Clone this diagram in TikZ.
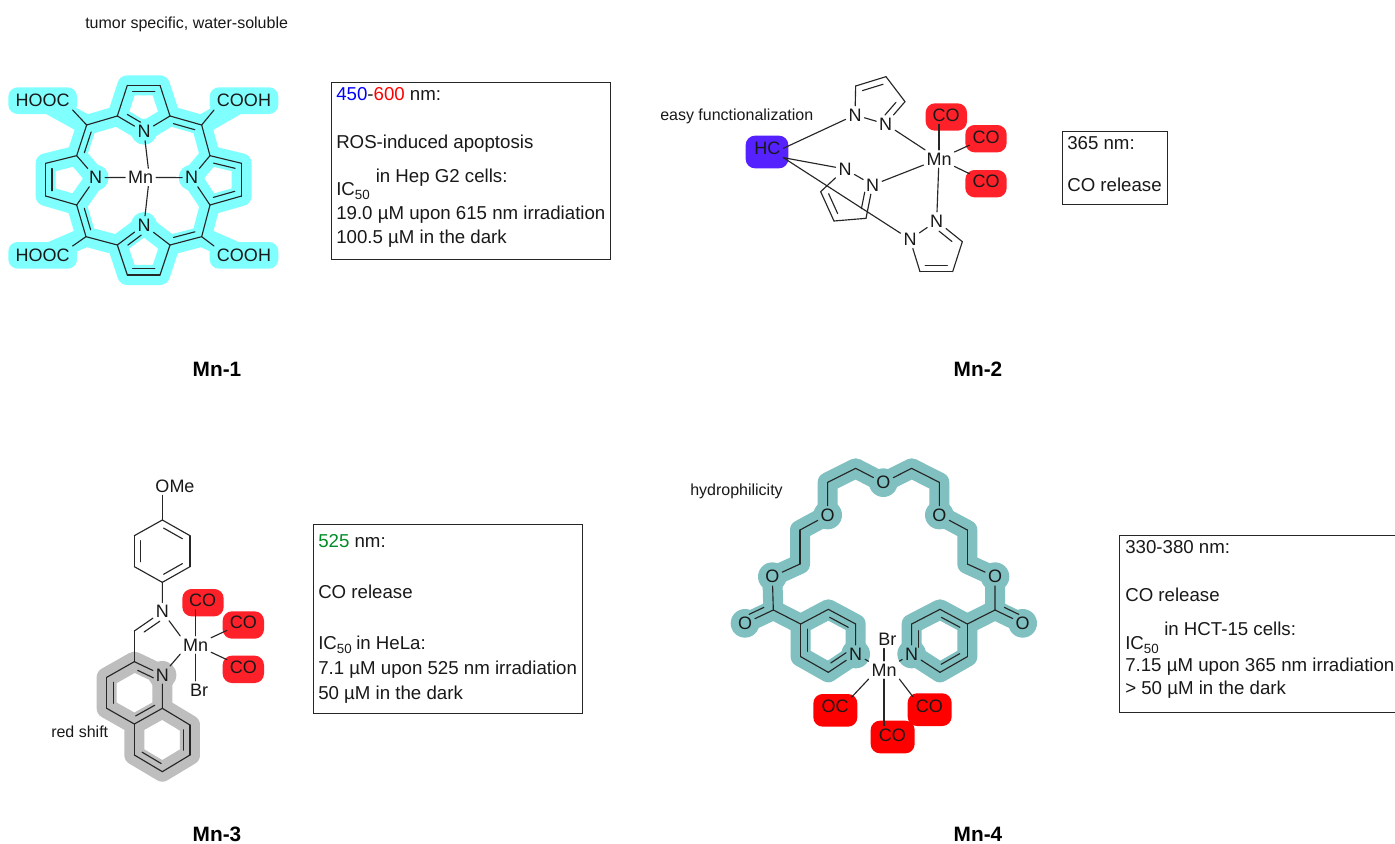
\documentclass[tikz,border=0pt]{standalone}
\usepackage{fontspec}
\setmainfont{Liberation Sans}
\usetikzlibrary{calc}
\pgfdeclarelayer{bg}
\pgfsetlayers{bg,main}
\newcommand\dblL[3][.16]{\draw[bond] ($(#2)!#1!(#3)!14.4pt!90:(#3)$) -- ($(#3)!#1!(#2)!14.4pt!-90:(#2)$);}
\newcommand\dblR[3][.16]{\draw[bond] ($(#2)!#1!(#3)!14.4pt!-90:(#3)$) -- ($(#3)!#1!(#2)!14.4pt!90:(#2)$);}
\newcommand\subf[1]{\raisebox{-3.2pt}{\fontsize{10}{12}\selectfont #1}}
\definecolor{hlcyan}{RGB}{128,255,255}
\definecolor{hlgray}{RGB}{190,190,190}
\definecolor{hlteal}{RGB}{128,192,192}
\definecolor{hlred}{RGB}{255,33,41}
\definecolor{hlpure}{RGB}{255,0,0}
\definecolor{hlpurple}{RGB}{85,33,255}
\definecolor{grn}{RGB}{0,140,40}
\tikzset{
  x=0.75pt,y=-0.75pt,
  bond/.style={draw=black!85,line width=.85pt,line cap=round,line join=round},
  atom/.style={inner sep=2pt,font=\fontsize{13.5}{16}\selectfont,text=black!90},
  txt/.style={inner sep=0pt,anchor=base west,font=\fontsize{14}{16}\selectfont,text=black!90},
  note/.style={inner sep=0pt,anchor=base west,font=\fontsize{12}{14}\selectfont,text=black!90},
  title/.style={inner sep=0pt,anchor=base,font=\fontsize{15.6}{18}\selectfont\bfseries},
  infobox/.style={draw=black!85,line width=.75pt,fill=none},
  hlline/.style={line width=15pt,line cap=round,line join=round},
  hlbox/.style={rectangle,rounded corners=7pt,inner sep=0pt},
  codbox/.style={hlbox,fill=hlred,minimum width=31pt,minimum height=20.5pt},
  cobbox/.style={hlbox,fill=hlpure,minimum width=33pt,minimum height=24.5pt},
}
\begin{document}
\begin{tikzpicture}
\path[use as bounding box] (0,0) rectangle (1395,843);
\begin{pgfonlayer}{bg}
\fill[white] (0,0) rectangle (1395,843);
\end{pgfonlayer}

%% ---------- Mn-1 ----------
\begin{scope}[shift={(0,60)},scale=1/3]
\foreach \n/\x/\y in {at1/382/76,at2/480/76,atl/352/168,atr/510/168,am1/260/195,am2/605/195,
  al1/230/287,al2/230/435,alb1/137/310,alb2/137/408,am3/258/530,am4/605/530,
  ab1/352/555,ab2/510/555,abb1/382/645,abb2/480/645,ar1/630/287,ar2/630/435,arb1/725/310,arb2/725/408}
  \coordinate (\n) at (\x,\y);
\node[atom] (aNt) at (432,215) {N};
\node[atom] (aNl) at (287,353) {N};
\node[atom] (aNr) at (575,353) {N};
\node[atom] (aNb) at (432,495) {N};
\node[atom] (aMn) at (422,352) {Mn};
\node[atom] (ac1) at (128,122) {HOOC};
\node[atom] (ac2) at (732,122) {COOH};
\node[atom] (ac3) at (128,586) {HOOC};
\node[atom] (ac4) at (732,586) {COOH};
\foreach \p/\q in {atl/at1,at1/at2,at2/atr,atl/aNt,aNt/atr,am1/atl,atr/am2,am1/al1,al1/alb1,alb1/alb2,alb2/al2,al1/aNl,aNl/al2,al2/am3,
  am3/ab1,ab1/aNb,aNb/ab2,ab1/abb1,abb1/abb2,abb2/ab2,ab2/am4,am2/ar1,ar1/arb1,arb1/arb2,arb2/ar2,ar1/aNr,aNr/ar2,ar2/am4,
  aNl/aMn,aNr/aMn}
  \draw[bond] (\p) -- (\q);
\draw[bond] (am1) -- (ac1.south east);
\draw[bond] (am2) -- (ac2.south west);
\draw[bond] (am3) -- (ac3.north east);
\draw[bond] (am4) -- (ac4.north west);
\draw[bond] (aNt) -- (aMn.50);
\draw[bond] (aNb) -- (aMn.-50);
\dblR{at1}{at2}
\dblL[.25]{atl}{aNt}
\dblR{atr}{am2}
\dblL{am1}{al1}
\dblL{alb1}{alb2}
\dblL{al2}{am3}
\dblR[.25]{ab1}{aNb}
\dblL{abb1}{abb2}
\dblL{ab2}{am4}
\dblR{ar1}{arb1}
\dblL{ar2}{arb2}
\begin{pgfonlayer}{bg}
\draw[hlline,draw=hlcyan] (am1) -- (atl) -- (at1) -- (at2) -- (atr) -- (am2) -- (ar1) -- (arb1) -- (arb2) -- (ar2) -- (am4) -- (ab2) -- (abb2) -- (abb1) -- (ab1) -- (am3) -- (al2) -- (alb2) -- (alb1) -- (al1) -- cycle;
\draw[hlline,draw=hlcyan] (atl) -- (aNt.center) -- (atr) (al1) -- (aNl.center) -- (al2) (ar1) -- (aNr.center) -- (ar2) (ab1) -- (aNb.center) -- (ab2);
\draw[hlline,draw=hlcyan] (am1) -- (ac1.center) (am2) -- (ac2.center) (am3) -- (ac3.center) (am4) -- (ac4.center);
\foreach \c in {aNt,aNl,aNr,aNb} \fill[hlcyan] (\c.center) circle (39);
\foreach \c in {ac1,ac2,ac3,ac4} \node[hlbox,fill=hlcyan,minimum width=51.5pt,minimum height=20pt] at (\c) {};
\end{pgfonlayer}
\end{scope}

%% ---------- Mn-2 ----------
\begin{scope}[shift={(730,60)},scale=1/3]
\foreach \n/\x/\y in {bc1/525/125,bc2/468/50,bc3/377/78,bc4/408/475,bc5/312/483,bc6/272/395,bc7/697/545,bc8/668/635,bc9/570/635}
  \coordinate (\n) at (\x,\y);
\node[atom] (bN1) at (375,165) {N};
\node[atom] (bN2) at (467,192) {N};
\node[atom] (bN3) at (345,327) {N};
\node[atom] (bN4) at (428,375) {N};
\node[atom] (bN5) at (540,538) {N};
\node[atom] (bN6) at (620,483) {N};
\node[atom] (bMn) at (627,297) {Mn};
\node[atom] (bHC) at (112,265) {HC};
\node[atom] (bCO1) at (648,165) {CO};
\node[atom] (bCO2) at (768,233) {CO};
\node[atom] (bCO3) at (768,365) {CO};
\foreach \p/\q in {bN1/bN2,bN2/bc1,bc1/bc2,bc2/bc3,bc3/bN1,bN3/bN4,bN4/bc4,bc4/bc5,bc5/bc6,bc6/bN3,bN5/bN6,bN6/bc7,bc7/bc8,bc8/bc9,bc9/bN5,
  bMn/bN2,bMn/bN4,bMn/bN6,bMn/bCO2,bMn/bCO3}
  \draw[bond] (\p) -- (\q);
\draw[bond] (bMn.north) -- (bMn.north |- bCO1.south);
\draw[bond] (bHC.east) -- (bN1);
\draw[bond] (bHC.south east) -- (bN3);
\draw[bond] (bHC.south east) -- (bN5);
\dblR[.22]{bc1}{bN2}
\dblL{bc2}{bc3}
\dblR[.25]{bN4}{bc4}
\dblR{bc5}{bc6}
\dblR[.25]{bN6}{bc7}
\dblR{bc8}{bc9}
\begin{pgfonlayer}{bg}
\node[hlbox,fill=hlpurple,minimum width=32pt,minimum height=24.5pt] at (111,276) {};
\node[codbox] at (649,171) {};
\node[codbox] at (768,236) {};
\node[codbox] at (768,371) {};
\end{pgfonlayer}
\end{scope}

%% ---------- Mn-3 ----------
\begin{scope}[shift={(80,470)},scale=1/3]
\foreach \n/\x/\y in {cr1/247/150,cr2/330/197,cr3/330/290,cr4/247/337,cr5/163/290,cr6/163/197,
  cim/163/483,cq2/163/575,cq8a/247/715,cq4a/163/762,cq4/80/715,cq3/80/622,cq8/330/765,cq7/330/855,cq6/247/905,cq5/163/855}
  \coordinate (\n) at (\x,\y);
\node[atom] (cOMe) at (285,48) {OMe};
\node[atom] (cN1) at (247,425) {N};
\node[atom] (cN2) at (247,615) {N};
\node[atom] (cMn) at (347,525) {Mn};
\node[atom] (cBr) at (357,660) {Br};
\node[atom] (cCO1) at (368,392) {CO};
\node[atom] (cCO2) at (490,458) {CO};
\node[atom] (cCO3) at (490,592) {CO};
\foreach \p/\q in {cr1/cr2,cr2/cr3,cr3/cr4,cr4/cr5,cr5/cr6,cr6/cr1,cr4/cN1,cN1/cim,cim/cq2,cq2/cN2,cN2/cq8a,cq8a/cq4a,cq4a/cq4,cq4/cq3,cq3/cq2,
  cq8a/cq8,cq8/cq7,cq7/cq6,cq6/cq5,cq5/cq4a,cMn/cCO2,cMn/cCO3}
  \draw[bond] (\p) -- (\q);
\draw[bond] (cOMe.south -| cr1) -- (cr1);
\draw[bond] (cN1) -- (cMn.north west);
\draw[bond] (cN2) -- (cMn.south west);
\draw[bond] (cMn.north) -- (cMn.north |- cCO1.south);
\draw[bond] (cMn.south) -- (cMn.south |- cBr.north);
\dblR{cr1}{cr2}
\dblR{cr3}{cr4}
\dblR{cr5}{cr6}
\dblL[.22]{cN1}{cim}
\dblR[.22]{cq2}{cN2}
\dblL{cq3}{cq4}
\dblL{cq4a}{cq8a}
\dblR{cq8}{cq7}
\dblR{cq6}{cq5}
\begin{pgfonlayer}{bg}
\draw[hlline,draw=hlgray] (cN2.center) -- (cq2) -- (cq3) -- (cq4) -- (cq4a) -- (cq5) -- (cq6) -- (cq7) -- (cq8) -- (cq8a) -- cycle (cq8a) -- (cq4a);
\fill[hlgray] (cN2.center) circle (42);
\node[codbox] at (369,398) {};
\node[codbox] at (490,465) {};
\node[codbox] at (490,598) {};
\end{pgfonlayer}
\end{scope}

%% ---------- Mn-4 ----------
\begin{scope}[shift={(720,450)},scale=1/3]
\foreach \n/\x/\y in {dl1/407/522,dl2/325/478,dl3/242/522,dl4/242/620,dl5/325/667,dc1/160/480,dg1/240/342,dg2/240/240,dg3/323/97,dg4/407/55,
  dg5/575/55,dg6/658/97,dg7/742/240,dg8/742/342,dc2/825/480,dr1/575/522,dr2/660/478,dr3/742/522,dr4/742/620,dr5/660/667}
  \coordinate (\n) at (\x,\y);
\node[atom] (dNl) at (407,612) {N};
\node[atom] (dNr) at (575,612) {N};
\node[atom] (dO1) at (75,520) {O};
\node[atom] (dO2) at (157,380) {O};
\node[atom] (dO3) at (323,195) {O};
\node[atom] (dO4) at (490,98) {O};
\node[atom] (dO5) at (658,195) {O};
\node[atom] (dO6) at (825,380) {O};
\node[atom] (dO7) at (908,520) {O};
\node[atom] (dMn) at (492,660) {Mn};
\node[atom] (dBr) at (502,568) {Br};
\node[atom] (dOC) at (345,770) {OC};
\node[atom] (dCO1) at (517,855) {CO};
\node[atom] (dCO2) at (628,768) {CO};
\foreach \p/\q in {dNl/dl1,dl1/dl2,dl2/dl3,dl3/dl4,dl4/dl5,dl5/dNl,dl3/dc1,dc1/dO1,dc1/dO2,dO2/dg1,dg1/dg2,dg2/dO3,dO3/dg3,dg3/dg4,dg4/dO4,dO4/dg5,dg5/dg6,dg6/dO5,dO5/dg7,dg7/dg8,dg8/dO6,dO6/dc2,dc2/dO7,dc2/dr3,
  dr3/dr2,dr2/dr1,dr1/dNr,dNr/dr5,dr5/dr4,dr4/dr3,dNl/dMn,dNr/dMn}
  \draw[bond] (\p) -- (\q);
\draw[bond] (dMn.north) -- (dMn.north |- dBr.south);
\draw[bond] (dMn.south west) -- (dOC.north east);
\draw[bond] (dMn.south east) -- (dCO2.north west);
\draw[bond] (dMn.south) -- (dMn.south |- dCO1.north);
\dblL{dl1}{dl2}
\dblL{dl3}{dl4}
\dblL[.22]{dl5}{dNl}
\dblR[.24]{dc1}{dO1}
\dblL{dr3}{dr2}
\dblR{dr4}{dr5}
\dblR[.22]{dNr}{dr1}
\dblL[.24]{dc2}{dO7}
\begin{pgfonlayer}{bg}
\draw[hlline,draw=hlteal] (dNl.center) -- (dl1) -- (dl2) -- (dl3) -- (dl4) -- (dl5) -- cycle;
\draw[hlline,draw=hlteal] (dNr.center) -- (dr1) -- (dr2) -- (dr3) -- (dr4) -- (dr5) -- cycle;
\draw[hlline,draw=hlteal] (dl3) -- (dc1) -- (dO2.center) -- (dg1) -- (dg2) -- (dO3.center) -- (dg3) -- (dg4) -- (dO4.center) -- (dg5) -- (dg6) -- (dO5.center) -- (dg7) -- (dg8) -- (dO6.center) -- (dc2) -- (dr3);
\draw[hlline,draw=hlteal] (dO1.center) -- (dc1) (dO7.center) -- (dc2);
\foreach \c in {dNl,dNr,dO1,dO2,dO3,dO4,dO5,dO6,dO7} \fill[hlteal] (\c.center) circle (43);
\node[cobbox] at (346,781) {};
\node[cobbox] at (518,861) {};
\node[cobbox] at (629,779) {};
\end{pgfonlayer}
\end{scope}

%% ---------- info boxes ----------
\node[infobox,inner sep=0pt,minimum width=209.25pt,minimum height=133pt,anchor=north west] (box1) at (331,82) {};
\node[txt] (t1a) at (336,100) {\textcolor{blue}{450}-\textcolor{red}{600} nm:};
\node[txt] (t1b) at (336,148) {ROS-induced apoptosis};
\node[txt] (t1c) at (336,195.5) {IC\subf{50}};
\node[txt] (t1d) at (375.5,182) {in Hep G2 cells:};
\node[txt] (t1e) at (336,219) {19.0 µM upon 615 nm irradiation};
\node[txt] (t1f) at (336,243) {100.5 µM in the dark};

\node[infobox,inner sep=0pt,minimum width=78.75pt,minimum height=54.75pt,anchor=north west] (box2) at (1062,131) {};
\node[txt] (t2a) at (1067,149) {365 nm:};
\node[txt] (t2b) at (1067,191) {CO release};

\node[infobox,inner sep=0pt,minimum width=201.75pt,minimum height=141.75pt,anchor=north west] (box3) at (313,524) {};
\node[txt] (t3a) at (318,547) {\textcolor{grn}{525} nm:};
\node[txt] (t3b) at (318,598) {CO release};
\node[txt] (t3c) at (318,649) {IC\subf{50}};
\node[txt] (t3d) at (356,649) {in HeLa:};
\node[txt] (t3e) at (318,674) {7.1 µM upon 525 nm irradiation};
\node[txt] (t3f) at (318,699) {50 µM in the dark};

\node[infobox,inner sep=0pt,minimum width=210pt,minimum height=132.5pt,anchor=north west] (box4) at (1119,535) {};
\node[txt] (t4a) at (1125,553) {330-380 nm:};
\node[txt] (t4b) at (1125,601) {CO release};
\node[txt] (t4c) at (1125,649.5) {IC\subf{50}};
\node[txt] (t4d) at (1164,635.5) {in HCT-15 cells:};
\node[txt] (t4e) at (1125,671) {7.15 µM upon 365 nm irradiation};
\node[txt] (t4f) at (1125,694) {> 50 µM in the dark};

%% ---------- notes and titles ----------
\node[note] (n1) at (85,28) {tumor specific, water-soluble};
\node[note] (n2) at (660,120) {easy functionalization};
\node[note] (n3) at (690,495) {hydrophilicity};
\node[note] (n4) at (51,737) {red shift};
\node[title] (l1) at (217,376.5) {Mn-1};
\node[title] (l2) at (978,376.5) {Mn-2};
\node[title] (l3) at (217,841) {Mn-3};
\node[title] (l4) at (978,841) {Mn-4};
\end{tikzpicture}
\end{document}
